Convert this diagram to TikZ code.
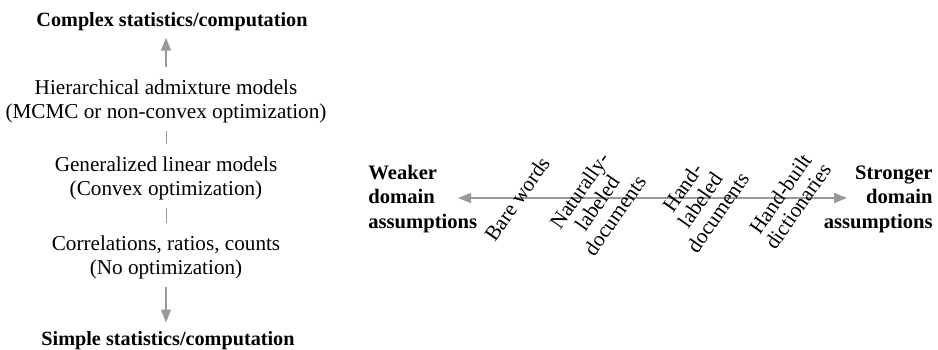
\documentclass[tikz,border=0pt]{standalone}
\usepackage{fontspec}
\setmainfont{Liberation Serif}
\usepackage{xcolor}
\usetikzlibrary{arrows.meta}
\definecolor{axisgray}{RGB}{153,153,153}

\begin{document}
\begin{tikzpicture}[x=0.5pt,y=0.5pt,
  model/.style={align=center,inner sep=3pt,font=\fontsize{10.6}{12}\selectfont},
  heading/.style={inner sep=3pt,font=\fontsize{10.1}{12}\bfseries\selectfont},
  side/.style={inner sep=0pt,font=\fontsize{10.3}{12.25}\bfseries\selectfont},
  source/.style={rotate=55,align=center,inner sep=0pt,font=\fontsize{10.6}{10.8}\selectfont},
  flow/.style={draw=axisgray,line width=0.75pt,-{Triangle[length=6.5pt,width=5pt]},fill=axisgray},
  tick/.style={draw=axisgray,line width=0.5pt,shorten <=1pt,shorten >=3pt}]
\useasboundingbox (0,0) rectangle (938,349);

\node[heading,anchor=base] (complex) at (172,322) {Complex statistics/computation};
\node[model] (hier) at (166,248) {Hierarchical admixture models\\(MCMC or non-convex optimization)};
\node[model] (glm) at (166,171) {Generalized linear models\\(Convex optimization)};
\node[model] (corr) at (166,92) {Correlations, ratios, counts\\(No optimization)};
\node[heading,anchor=base] (simple) at (168,4) {Simple statistics/computation};

\draw[flow,shorten <=3pt] (hier.north) -- (hier.north |- complex.south);
\draw[tick] (hier) -- (glm);
\draw[tick] (glm) -- (corr);
\draw[flow,shorten <=1pt,shorten >=1pt] (corr.south) -- (corr.south |- simple.north);

\node[side,align=left,anchor=west] (weaker) at (368,150) {Weaker\\domain\\assumptions};
\node[side,align=right,anchor=east] (stronger) at (933,150) {Stronger\\domain\\assumptions};
\coordinate (weakend) at (458,151);
\coordinate (strongend) at (847,151);
\draw[flow,{Triangle[length=6.5pt,width=5pt]}-{Triangle[length=6.5pt,width=5pt]}] (weakend) -- (strongend);

\node[source] (bare) at (517,150) {Bare words};
\node[source] (natural) at (597,146) {Naturally-\\labeled\\documents};
\node[source] (handlab) at (700,149) {Hand-\\labeled\\documents};
\node[source] (handdict) at (789,149) {Hand-built\\dictionaries};
\end{tikzpicture}
\end{document}
